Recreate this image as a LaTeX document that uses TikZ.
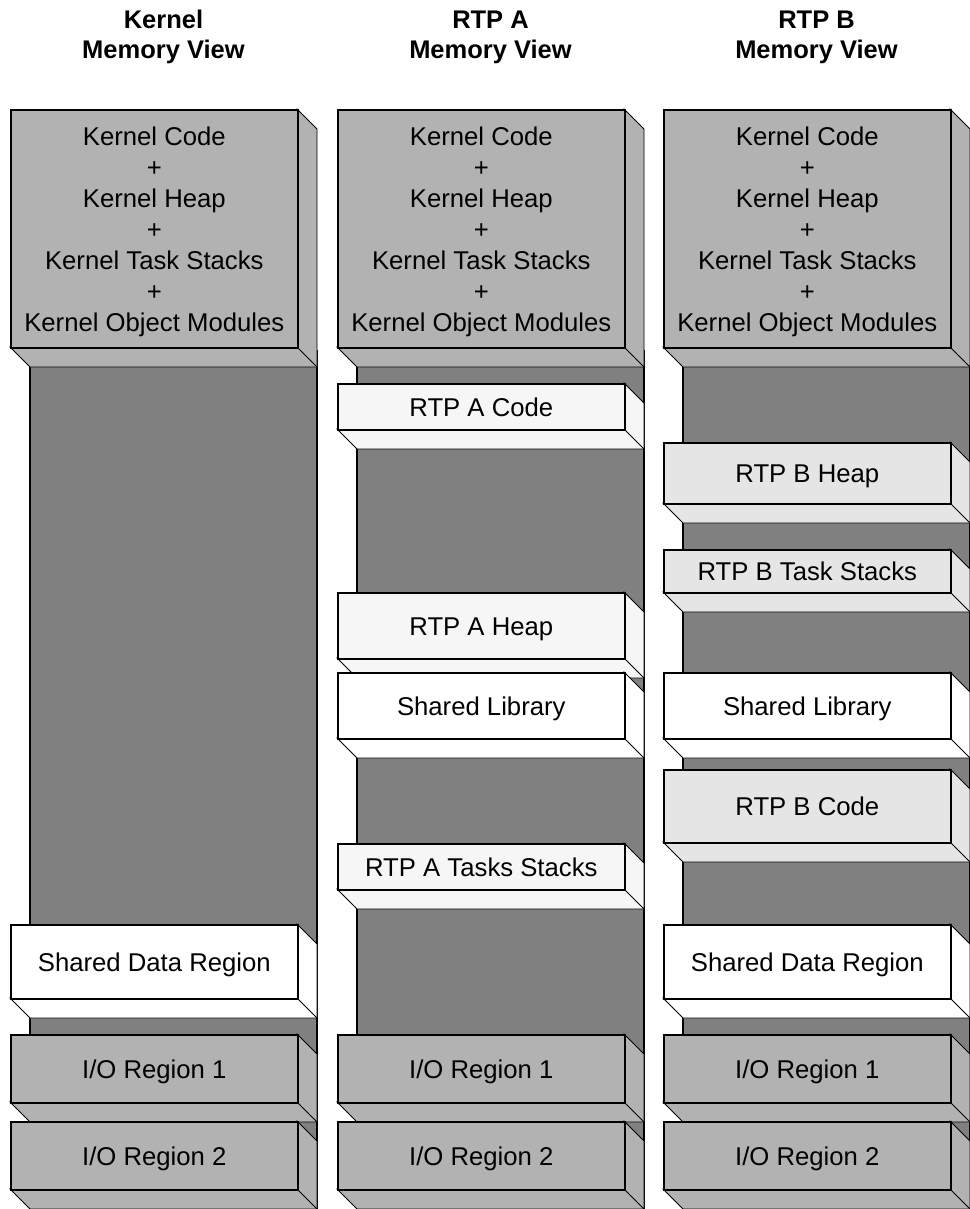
\documentclass[tikz,border=0pt]{standalone}
\usepackage{fontspec}
\setmainfont{Liberation Sans}

\definecolor{kernelgray}{gray}{0.70}
\definecolor{emptygray}{gray}{0.50}
\definecolor{rtpafill}{gray}{0.965}
\definecolor{rtpbfill}{gray}{0.90}

\newcommand\boxfont{\fontsize{25.7}{31}\selectfont}
\newcommand\headfont{\fontsize{25.5}{30}\selectfont\bfseries}

\tikzset{
  facefront/.style={draw=black, line width=1.6pt, minimum width=287pt,
    inner sep=0pt, anchor=north west, align=center, font=\boxfont,
    text height=18.5pt, text depth=0pt},
  sevenlines/.style={text height=204.5pt, text depth=0pt},
  faceedge/.style={draw=black, line width=0.8pt, line join=miter},
  colheader/.style={align=center, font=\headfont, inner sep=0pt},
  colborder/.style={draw=black, line width=1.6pt},
}

% one memory block: [extra style], name, left x, top y, bottom y of the front face, fill, text
\newcommand\memblock[7][]{%
  \pgfmathsetmacro\blkh{#5-#4}%
  \filldraw[fill=#6, faceedge] (#3+287,#4) -- (#3+307,#4+20) -- (#3+307,#5+20)
    -- (#3+20,#5+20) -- (#3,#5) -- (#3+287,#5) -- cycle;
  \draw[faceedge] (#3+287,#5) -- (#3+307,#5+20);
  \node[facefront, fill=#6, minimum height=\blkh pt, #1] (#2) at (#3,#4) {#7};
}

% unmapped address space behind the blocks of one view
\newcommand\backcol[1]{%
  \fill[emptygray] (#1+20,350) rectangle (#1+307,1209);
  \draw[colborder] (#1+20,350) -- (#1+20,1209) (#1+307,350) -- (#1+307,1209);
}

\newcommand\kerneltext{Kernel Code\\+\\Kernel Heap\\+\\Kernel Task Stacks\\+\\Kernel Object Modules}

\begin{document}
\begin{tikzpicture}[x=1pt, y=-1pt]
\useasboundingbox (0,0) rectangle (969,1209);

% column headers
\node[colheader] (hk) at (163.5,37) {Kernel\\Memory View};
\node[colheader] (ha) at (490.5,37) {RTP A\\Memory View};
\node[colheader] (hb) at (816.5,37) {RTP B\\Memory View};

% kernel view
\backcol{10}
\memblock[sevenlines]{k-kern}{10}{109}{347}{kernelgray}{\kerneltext}
\memblock{k-sdr}{10}{924}{998}{white}{Shared Data Region}
\memblock{k-io1}{10}{1034}{1102}{kernelgray}{I/O Region 1}
\memblock{k-io2}{10}{1121}{1189}{kernelgray}{I/O Region 2}

% RTP A view
\backcol{337}
\memblock[sevenlines]{a-kern}{337}{109}{347}{kernelgray}{\kerneltext}
\memblock{a-code}{337}{383}{429}{rtpafill}{RTP A Code}
\memblock{a-heap}{337}{592}{658}{rtpafill}{RTP A Heap}
\memblock{a-lib}{337}{672}{738}{white}{Shared Library}
\memblock{a-stk}{337}{843}{889}{rtpafill}{RTP A Tasks Stacks}
\memblock{a-io1}{337}{1034}{1102}{kernelgray}{I/O Region 1}
\memblock{a-io2}{337}{1121}{1189}{kernelgray}{I/O Region 2}

% RTP B view
\backcol{663}
\memblock[sevenlines]{b-kern}{663}{109}{347}{kernelgray}{\kerneltext}
\memblock{b-heap}{663}{442}{503}{rtpbfill}{RTP B Heap}
\memblock{b-stk}{663}{549}{592}{rtpbfill}{RTP B Task Stacks}
\memblock{b-lib}{663}{672}{738}{white}{Shared Library}
\memblock{b-code}{663}{769}{842}{rtpbfill}{RTP B Code}
\memblock{b-sdr}{663}{924}{998}{white}{Shared Data Region}
\memblock{b-io1}{663}{1034}{1102}{kernelgray}{I/O Region 1}
\memblock{b-io2}{663}{1121}{1189}{kernelgray}{I/O Region 2}
\end{tikzpicture}
\end{document}
